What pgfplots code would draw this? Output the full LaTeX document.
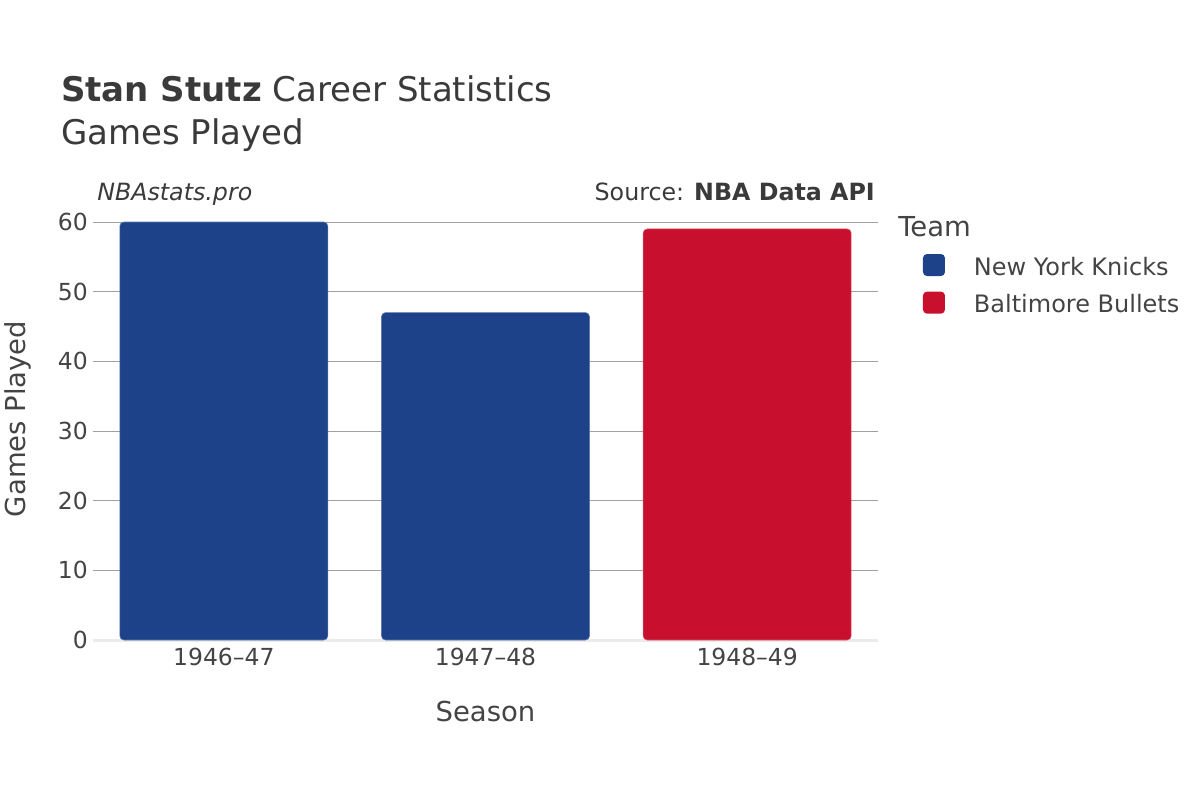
\documentclass[border=0pt]{standalone}
\usepackage{fontspec}
\setmainfont{DejaVu Sans}
\usepackage{pgfplots}
\pgfplotsset{compat=1.18}
\definecolor{knicks}{HTML}{1D428A}
\definecolor{bullets}{HTML}{C8102E}
\definecolor{txt}{HTML}{444444}
\definecolor{ttl}{HTML}{3A3A3A}
\definecolor{gridc}{HTML}{A0A0A0}
\definecolor{zeroc}{HTML}{EBEBEB}
\begin{document}
\begin{tikzpicture}
\path[use as bounding box] (0,0) rectangle (900pt,-600pt);
\node[anchor=base west, inner sep=0pt, text=ttl, font=\fontsize{25.5pt}{30pt}\selectfont] at (45.75pt,-75.75pt) {\textbf{Stan Stutz} Career Statistics};
\node[anchor=base west, inner sep=0pt, text=ttl, font=\fontsize{25.5pt}{30pt}\selectfont] at (45.75pt,-108pt) {Games Played};
\node[anchor=base west, inner sep=0pt, text=ttl, font=\fontsize{17.8pt}{21pt}\selectfont] at (72.75pt,-150pt) {\textit{NBAstats.pro}};
\node[anchor=base east, inner sep=0pt, text=ttl, font=\fontsize{17.8pt}{21pt}\selectfont] at (656.25pt,-150pt) {Source: \textbf{NBA Data API}};
\node[anchor=base west, inner sep=0pt, text=txt, font=\fontsize{20.6pt}{24pt}\selectfont] at (673.5pt,-177pt) {Team};
\begin{axis}[
  at={(69.75pt,-480pt)}, anchor=south west,
  width=588.75pt, height=313.5pt, scale only axis,
  xmin=-0.5, xmax=2.5, ymin=0, ymax=60,
  clip=false,
  ybar, bar width=156pt, bar shift=0pt,
  xtick={0,1,2}, xticklabels={1946–47,1947–48,1948–49},
  ytick={10,20,30,40,50,60},
  extra y ticks={0},
  extra y tick style={grid style={draw=zeroc, line width=2.25pt}},
  ymajorgrids, grid style={draw=gridc, line width=0.75pt},
  axis line style={draw=none}, major tick length=0pt,
  /pgf/number format/assume math mode=true,
  tick label style={font=\fontsize{17.6pt}{21pt}\selectfont, text=txt},
  yticklabel style={anchor=east, inner sep=0pt, xshift=-3.75pt},
  xticklabel style={anchor=north, inner sep=0pt, yshift=-6pt},
  xlabel={Season}, ylabel={Games Played},
  label style={font=\fontsize{20.6pt}{24pt}\selectfont, text=txt},
  xlabel style={at={(axis description cs:0.5,-0.196)}, anchor=base},
  ylabel style={at={(axis description cs:-0.0854,0.529)}, anchor=base},
  legend style={at={(axis description cs:1.0573,0.9234)}, anchor=north west,
    draw=none, fill=none, inner sep=0pt, outer sep=0pt,
    row sep=10.85pt, column sep=21.75pt,
    font=\fontsize{18pt}{21pt}\selectfont, text=txt,
    nodes={inner sep=0pt, outer sep=0pt, yshift=6pt}},
  legend cell align=left,
  legend image code/.code={\fill[#1, draw=none, rounded corners=3pt] (0pt,-0.75pt) rectangle (16.5pt,15.75pt);},
]
\addplot[fill=knicks, draw=knicks!70!white, line width=0.4pt, rounded corners=3pt] coordinates {(0,60) (1,47)};
\addlegendentry{New York Knicks}
\addplot[fill=bullets, draw=bullets!70!white, line width=0.4pt, rounded corners=3pt] coordinates {(2,59)};
\addlegendentry{Baltimore Bullets}
\end{axis}
\end{tikzpicture}
\end{document}
